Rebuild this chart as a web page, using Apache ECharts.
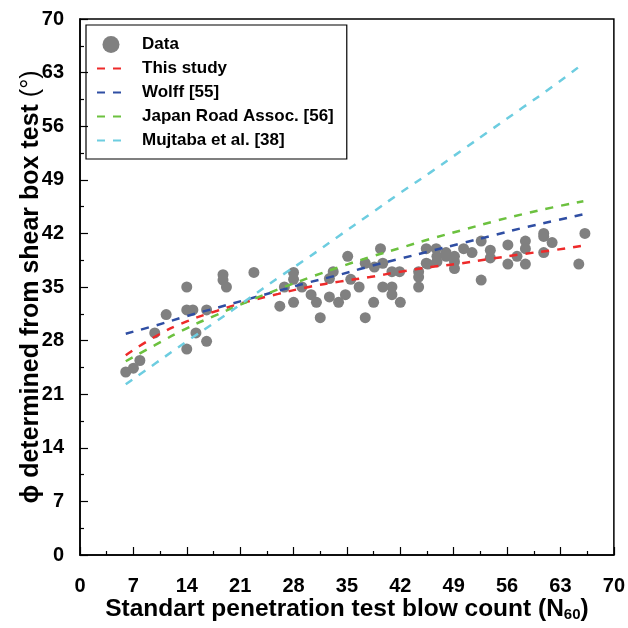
<!DOCTYPE html>
<html>
<head>
<meta charset="utf-8">
<script src="https://cdn.jsdelivr.net/npm/echarts@6/dist/echarts.min.js"></script>
<style>
  html, body { margin: 0; padding: 0; background: #fff; }
  #chart { width: 628px; height: 628px; }
</style>
</head>
<body>
<div id="chart"></div>
<script>
// measured points (N60, phi)
var dataN = [6.0, 7.0, 7.85, 9.8, 11.3, 14.0, 14.0, 14.8, 15.2, 14.0, 16.6, 16.6,
  18.75, 18.75, 19.2, 22.8, 26.2, 26.8, 28.0, 28.0, 28.0, 29.1, 30.3, 31.0, 31.5,
  33.2, 32.7, 35.1, 35.5, 37.4, 38.6, 39.4, 39.7, 40.9, 41.9, 36.6, 39.7, 40.9, 40.9,
  44.4, 44.4, 44.4, 45.4, 45.4, 32.7, 34.8, 33.9, 38.5, 42.0, 37.4,
  46.7, 45.6, 46.8, 46.8, 48.0, 48.0, 49.1, 49.1, 49.1, 50.3, 51.4, 52.6, 52.6,
  53.8, 53.8, 56.1, 56.1, 57.3, 58.4, 58.4, 58.4, 60.8, 60.8, 61.9, 60.8, 66.2, 65.4]
var dataPhi = [23.9, 24.4, 25.4, 29.0, 31.4, 35.0, 32.0, 32.0, 29.0, 26.9, 32.0, 27.9,
  36.6, 35.9, 35.0, 36.9, 32.5, 35.0, 36.9, 36.0, 33.0, 35.0, 34.0, 33.0, 31.0,
  37.0, 36.1, 39.0, 36.0, 38.1, 37.6, 40.0, 38.1, 37.0, 37.0, 35.0, 35.0, 35.0, 34.0,
  37.0, 36.3, 35.0, 40.0, 38.1, 33.7, 34.0, 33.0, 33.0, 33.0, 31.0,
  40.0, 38.0, 39.0, 38.3, 39.5, 39.0, 39.0, 38.3, 37.4, 40.0, 39.5, 41.0, 35.9,
  39.8, 38.8, 40.5, 38.0, 39.0, 41.0, 40.0, 38.0, 42.0, 41.6, 40.8, 39.5, 42.0, 38.0]

// curves
var curveN = [6, 10, 14, 18, 22, 26, 30, 34, 38, 42, 46, 50, 54, 58, 62, 66]
var thisStudy = [26.1, 28.6, 30.5, 31.9, 33.1, 34.1, 35.0, 35.7, 36.3, 37.0, 37.6, 38.1, 38.7, 39.3, 39.8, 40.4]
var wolff = [28.9, 30.0, 31.2, 32.3, 33.4, 34.5, 35.6, 36.6, 37.7, 38.7, 39.7, 40.7, 41.7, 42.7, 43.6, 44.5]
var japanRoad = [25.3, 27.5, 29.6, 31.4, 33.1, 34.7, 36.2, 37.6, 38.9, 40.1, 41.3, 42.4, 43.5, 44.5, 45.4, 46.2]
var mujtaba = [22.3, 25.1, 27.9, 30.6, 33.4, 36.2, 38.9, 41.7, 44.5, 47.3, 50.0, 52.8, 55.6, 58.4, 61.2, 64.2]

var axisTicks = [0, 7, 14, 21, 28, 35, 42, 49, 56, 63, 70]

var FONT = 'Liberation Sans, Arial'

function pairs(xs, ys) {
  return xs.map(function (x, i) { return [x, ys[i]] })
}

var chart = echarts.init(document.getElementById('chart'))

var lineSeries = function (name, ys, color) {
  return {
    name: name,
    type: 'line',
    data: pairs(curveN, ys),
    smooth: true,
    symbol: 'none',
    lineStyle: { color: color, width: 2.5, type: [8, 8] },
    itemStyle: { color: color },
    z: 3
  }
}

// legend entry for a dashed line: hide the symbol, keep the line
var lineLegend = function (name) {
  return { name: name, itemStyle: { color: 'rgba(0,0,0,0)', borderWidth: 0, opacity: 0 } }
}

var axisCommon = {
  min: axisTicks[0],
  max: axisTicks[axisTicks.length - 1],
  interval: 7,
  nameMoveOverlap: false,
  axisLine: { onZero: false, lineStyle: { color: '#000', width: 1.5 } },
  axisTick: { inside: true, length: 8, lineStyle: { color: '#000', width: 1.2 } },
  minorTick: { show: true, splitNumber: 2, length: 4, lineStyle: { color: '#000', width: 1.2 } },
  splitLine: { show: false },
  axisLabel: { color: '#000', fontWeight: 'bold', fontSize: 20, fontFamily: FONT },
  nameTextStyle: { color: '#000', fontWeight: 'bold', fontSize: 24.5, fontFamily: FONT }
}

chart.setOption({
  animation: false,
  backgroundColor: '#fff',
  grid: { left: 80, right: 13, top: 19, bottom: 73, show: true, borderColor: '#000', borderWidth: 1.5 },
  legend: {
    orient: 'vertical',
    left: 86,
    top: 25,
    padding: [11, 13, 10, 10],
    borderColor: '#000',
    borderWidth: 1.2,
    itemWidth: 28,
    itemHeight: 17,
    itemGap: 7,
    textStyle: { color: '#000', fontWeight: 'bold', fontSize: 17, fontFamily: FONT, padding: [0, 0, 0, 12] },
    data: [
      { name: 'Data', icon: 'circle' },
      lineLegend('This study'),
      lineLegend('Wolff [55]'),
      lineLegend('Japan Road Assoc. [56]'),
      lineLegend('Mujtaba et al. [38]')
    ]
  },
  xAxis: Object.assign({}, axisCommon, {
    type: 'value',
    name: 'Standart penetration test blow count (N{sub|60})',
    nameLocation: 'middle',
    nameGap: 42,
    axisLabel: Object.assign({}, axisCommon.axisLabel, { margin: 21 }),
    nameTextStyle: Object.assign({}, axisCommon.nameTextStyle, {
      rich: { sub: { fontSize: 15, fontWeight: 'bold', verticalAlign: 'bottom', padding: [10, 0, 0, 0], fontFamily: FONT } }
    })
  }),
  yAxis: Object.assign({}, axisCommon, {
    type: 'value',
    name: 'ϕ determined from shear box test {deg|(°)}',
    nameLocation: 'middle',
    nameGap: 36,
    axisLabel: Object.assign({}, axisCommon.axisLabel, { margin: 16 }),
    nameTextStyle: Object.assign({}, axisCommon.nameTextStyle, {
      fontSize: 25,
      rich: { deg: { fontSize: 25, fontWeight: 'normal', fontFamily: FONT } }
    })
  }),
  series: [
    {
      name: 'Data',
      type: 'scatter',
      data: pairs(dataN, dataPhi),
      symbolSize: 11,
      itemStyle: { color: '#808080', opacity: 1 },
      z: 2
    },
    lineSeries('This study', thisStudy, '#ee2a2a'),
    lineSeries('Wolff [55]', wolff, '#2f4ea3'),
    lineSeries('Japan Road Assoc. [56]', japanRoad, '#6cc13f'),
    lineSeries('Mujtaba et al. [38]', mujtaba, '#6dcde0')
  ]
})
</script>
</body>
</html>
